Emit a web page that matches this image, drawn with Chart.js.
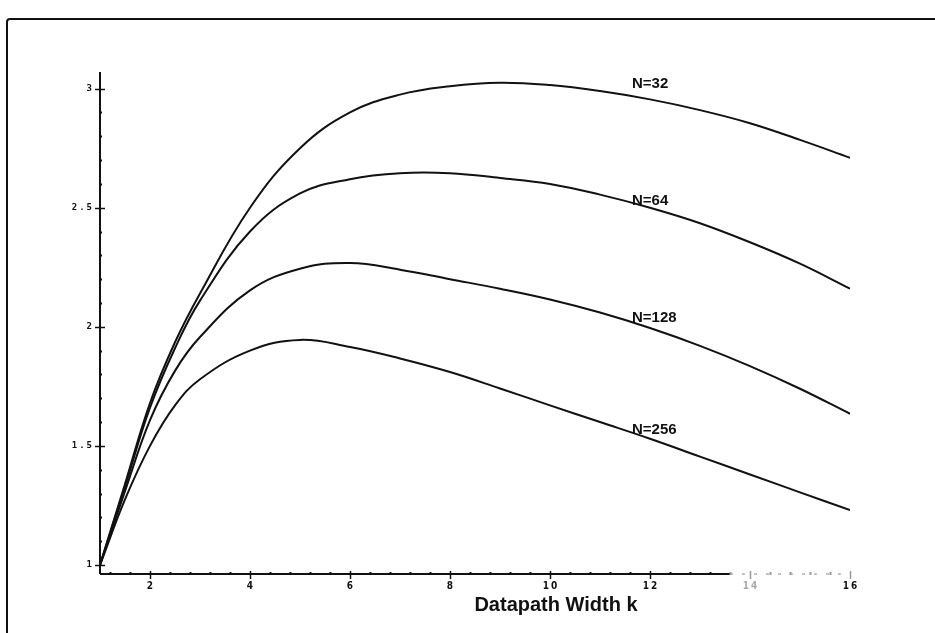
<!DOCTYPE html>
<html>
<head>
<meta charset="utf-8">
<script src="https://cdn.jsdelivr.net/npm/chart.js@4.4.1/dist/chart.umd.min.js"></script>
<style>
  html, body { margin: 0; padding: 0; background: #fff; }
  canvas { display: block; }
</style>
</head>
<body>
<canvas id="speedupChart" width="935" height="633"></canvas>
<script>
// datapath widths k where the curves are sampled
const widths = [1, 1.5, 2, 2.5, 3, 4, 5, 6, 7, 8, 9, 10, 11, 12, 13, 14, 15, 16];

// one curve per problem size N
const speedN32  = [1, 1.34, 1.68, 1.935, 2.14, 2.50, 2.75, 2.90, 2.975, 3.01, 3.025, 3.015, 2.99, 2.955, 2.91, 2.855, 2.785, 2.71];
const speedN64  = [1, 1.33, 1.66, 1.91, 2.11, 2.40, 2.56, 2.62, 2.645, 2.645, 2.625, 2.60, 2.555, 2.50, 2.435, 2.355, 2.265, 2.16];
const speedN128 = [1, 1.31, 1.608, 1.815, 1.957, 2.153, 2.244, 2.268, 2.24, 2.20, 2.16, 2.115, 2.06, 1.995, 1.92, 1.835, 1.74, 1.635];
const speedN256 = [1, 1.275, 1.50, 1.67, 1.78, 1.90, 1.945, 1.915, 1.867, 1.81, 1.741, 1.67, 1.60, 1.53, 1.455, 1.38, 1.305, 1.23];

const seriesNames = ['N=32', 'N=64', 'N=128', 'N=256'];
// where each curve's name is written (k, speedup)
const nameSpots = [[11.64, 3.02], [11.64, 2.53], [11.64, 2.036], [11.64, 1.566]];

const xTickLabels = ['2', '4', '6', '8', '10', '12', '14', '16'];
const yTickLabels = ['1', '1.5', '2', '2.5', '3'];
const xTitle = 'Datapath Width k';

function toPoints(values) {
    return values.map((v, i) => ({ x: widths[i], y: v }));
}

// hand-drawn axes: crossing major ticks, small minor ticks, spaced tick digits
const plotAxes = {
    id: 'plotAxes',
    afterDraw(chart) {
        const ctx = chart.ctx;
        const xs = chart.scales.x;
        const ys = chart.scales.y;
        const area = chart.chartArea;
        ctx.save();

        // outer frame (only top and left edge are visible)
        ctx.strokeStyle = '#111';
        ctx.lineWidth = 2;
        ctx.beginPath();
        ctx.moveTo(7, 633);
        ctx.lineTo(7, 22);
        ctx.quadraticCurveTo(7, 19, 10, 19);
        ctx.lineTo(935, 19);
        ctx.stroke();

        // y axis
        ctx.lineWidth = 2;
        ctx.beginPath();
        ctx.moveTo(area.left, area.top);
        ctx.lineTo(area.left, area.bottom);
        ctx.stroke();

        for (let i = 10; i <= 30; i++) {
            const v = i / 10;
            const py = Math.round(ys.getPixelForValue(v)) + 0.5;
            const major = i % 5 === 0;
            ctx.lineWidth = major ? 1.5 : 2;
            ctx.beginPath();
            if (major) {
                ctx.moveTo(area.left - 5, py);
                ctx.lineTo(area.left + 5, py);
            } else {
                ctx.moveTo(area.left - 1, py);
                ctx.lineTo(area.left + 2, py);
            }
            ctx.stroke();
        }

        ctx.fillStyle = '#111';
        ctx.font = 'bold 9px "DejaVu Sans Mono"';
        ctx.textAlign = 'right';
        ctx.textBaseline = 'middle';
        ctx.letterSpacing = '2px';
        yTickLabels.forEach(t => {
            ctx.fillText(t, area.left - 6, ys.getPixelForValue(parseFloat(t)));
        });

        // x axis: solid part, then the faded stretch toward the end
        const fadeFrom = xs.getPixelForValue(13.6);
        ctx.lineWidth = 2;
        ctx.strokeStyle = '#111';
        ctx.beginPath();
        ctx.moveTo(area.left, area.bottom);
        ctx.lineTo(fadeFrom, area.bottom);
        ctx.stroke();
        ctx.strokeStyle = '#888';
        ctx.lineWidth = 1;
        ctx.setLineDash([3, 9]);
        ctx.beginPath();
        ctx.moveTo(fadeFrom, area.bottom);
        ctx.lineTo(area.right, area.bottom);
        ctx.stroke();
        ctx.setLineDash([]);

        for (let i = 3; i <= 40; i++) {
            const v = i * 0.4;
            const px = Math.round(xs.getPixelForValue(v)) + 0.5;
            const major = i % 5 === 0;
            const faded = v > 13.6;
            ctx.strokeStyle = faded ? '#999' : '#111';
            ctx.lineWidth = major ? 1.5 : 2;
            ctx.beginPath();
            if (major) {
                ctx.moveTo(px, area.bottom - 3);
                ctx.lineTo(px, area.bottom + 5);
            } else {
                ctx.moveTo(px, area.bottom - 2);
                ctx.lineTo(px, area.bottom + 1);
            }
            ctx.stroke();
        }

        ctx.font = 'bold 10px "DejaVu Sans Condensed"';
        ctx.textAlign = 'center';
        ctx.letterSpacing = '2px';
        xTickLabels.forEach(t => {
            const v = parseFloat(t);
            ctx.fillStyle = v === 14 ? '#aaa' : '#111';
            ctx.fillText(t, xs.getPixelForValue(v) + 1, area.bottom + 12);
        });
        ctx.letterSpacing = '0px';

        // axis title
        ctx.fillStyle = '#111';
        ctx.font = 'bold 20px "Liberation Sans"';
        ctx.textAlign = 'center';
        ctx.fillText(xTitle, 556, 605);

        // curve names
        ctx.font = 'bold 15px "Liberation Sans"';
        ctx.textAlign = 'left';
        seriesNames.forEach((name, i) => {
            const [k, s] = nameSpots[i];
            ctx.fillText(name, xs.getPixelForValue(k), ys.getPixelForValue(s));
        });

        ctx.restore();
    }
};

const allSeries = [speedN32, speedN64, speedN128, speedN256];

new Chart(document.getElementById('speedupChart'), {
    type: 'line',
    data: {
        datasets: allSeries.map((values, i) => ({
            label: seriesNames[i],
            data: toPoints(values),
            borderColor: '#111',
            borderWidth: 2,
            pointRadius: 0,
            tension: 0.4,
            fill: false
        }))
    },
    options: {
        responsive: false,
        animation: false,
        devicePixelRatio: 1,
        layout: {
            padding: { left: 100, right: 85, top: 72, bottom: 59 }
        },
        plugins: {
            legend: { display: false },
            tooltip: { enabled: false }
        },
        scales: {
            x: { type: 'linear', min: 1, max: 16, display: false },
            y: { type: 'linear', min: 0.962, max: 3.07, display: false }
        }
    },
    plugins: [plotAxes]
});
</script>
</body>
</html>
